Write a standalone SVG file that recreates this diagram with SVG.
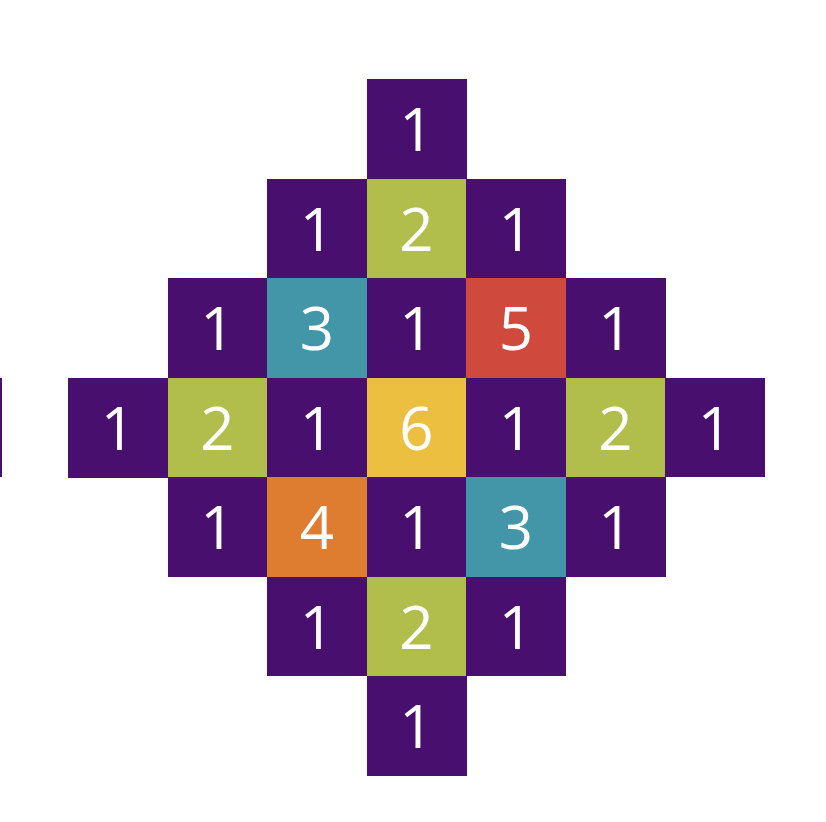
<svg xmlns="http://www.w3.org/2000/svg" width="826" height="822" viewBox="0 0 826 822">
<style>
rect{shape-rendering:crispEdges}
.p{fill:#490F6F}.g{fill:#B2BE4B}.t{fill:#4395A8}.r{fill:#CF4A3C}.y{fill:#EDBF41}.o{fill:#DE7C30}
text{font-family:"Open Sans","Noto Sans",sans-serif;font-size:60px;fill:#FFFFFF;text-anchor:middle}
</style>
<rect width="826" height="822" fill="#FFFFFF"/>
<rect class="p" x="0" y="377.5" width="1.5" height="99.5"/>
<g id="r0c3"><rect class="p" x="366.5" y="79" width="100" height="100"/><text x="416.5" y="151">1</text></g>
<g id="r1c2"><rect class="p" x="267" y="178.5" width="100" height="100"/><text x="317" y="250.5">1</text></g>
<g id="r1c3"><rect class="g" x="366.5" y="178.5" width="100" height="100"/><text x="416.5" y="250.5">2</text></g>
<g id="r1c4"><rect class="p" x="466" y="178.5" width="100" height="100"/><text x="516" y="250.5">1</text></g>
<g id="r2c1"><rect class="p" x="167.5" y="278" width="100" height="100"/><text x="217.5" y="350">1</text></g>
<g id="r2c2"><rect class="t" x="267" y="278" width="100" height="100"/><text x="317" y="350">3</text></g>
<g id="r2c3"><rect class="p" x="366.5" y="278" width="100" height="100"/><text x="416.5" y="350">1</text></g>
<g id="r2c4"><rect class="r" x="466" y="278" width="100" height="100"/><text x="516" y="350">5</text></g>
<g id="r2c5"><rect class="p" x="565.5" y="278" width="100" height="100"/><text x="615.5" y="350">1</text></g>
<g id="r3c0"><rect class="p" x="68" y="377.5" width="100" height="100"/><text x="118" y="449.5">1</text></g>
<g id="r3c1"><rect class="g" x="167.5" y="377.5" width="100" height="100"/><text x="217.5" y="449.5">2</text></g>
<g id="r3c2"><rect class="p" x="267" y="377.5" width="100" height="100"/><text x="317" y="449.5">1</text></g>
<g id="r3c3"><rect class="y" x="366.5" y="377.5" width="100" height="100"/><text x="416.5" y="449.5">6</text></g>
<g id="r3c4"><rect class="p" x="466" y="377.5" width="100" height="100"/><text x="516" y="449.5">1</text></g>
<g id="r3c5"><rect class="g" x="565.5" y="377.5" width="100" height="100"/><text x="615.5" y="449.5">2</text></g>
<g id="r3c6"><rect class="p" x="665" y="377.5" width="100" height="99.5"/><text x="715" y="449.5">1</text></g>
<g id="r4c1"><rect class="p" x="167.5" y="477" width="100" height="100"/><text x="217.5" y="549">1</text></g>
<g id="r4c2"><rect class="o" x="267" y="477" width="100" height="100"/><text x="317" y="549">4</text></g>
<g id="r4c3"><rect class="p" x="366.5" y="477" width="100" height="100"/><text x="416.5" y="549">1</text></g>
<g id="r4c4"><rect class="t" x="466" y="477" width="100" height="100"/><text x="516" y="549">3</text></g>
<g id="r4c5"><rect class="p" x="565.5" y="477" width="100" height="99.5"/><text x="615.5" y="549">1</text></g>
<g id="r5c2"><rect class="p" x="267" y="576.5" width="100" height="99.5"/><text x="317" y="648.5">1</text></g>
<g id="r5c3"><rect class="g" x="366.5" y="576.5" width="100" height="100"/><text x="416.5" y="648.5">2</text></g>
<g id="r5c4"><rect class="p" x="466" y="576.5" width="100" height="99.5"/><text x="516" y="648.5">1</text></g>
<g id="r6c3"><rect class="p" x="366.5" y="676" width="100" height="99.5"/><text x="416.5" y="748">1</text></g>
<g id="connectors"></g>
</svg>
